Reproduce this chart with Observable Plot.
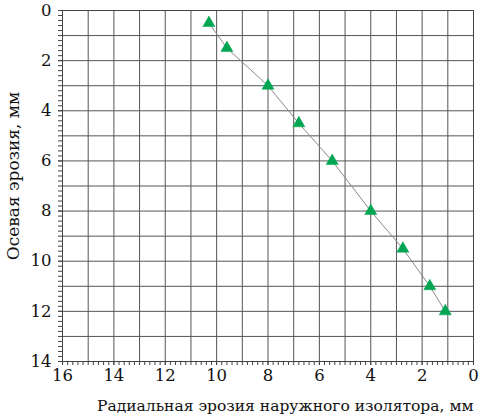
<!DOCTYPE html>
<html><head><meta charset="utf-8">
<script src="https://cdn.jsdelivr.net/npm/d3@7"></script>
<script src="https://cdn.jsdelivr.net/npm/@observablehq/plot@0.6"></script>
<style>body{margin:0;background:#fff;} svg{display:block;}</style>
</head><body><div id="chart"></div>
<script>
const radial = [10.3, 9.6, 8.0, 6.8, 5.5, 4.0, 2.75, 1.7, 1.1];
const axial = [0.5, 1.5, 3.0, 4.5, 6.0, 8.0, 9.5, 11.0, 12.0];
const xTicks = [16, 14, 12, 10, 8, 6, 4, 2, 0];
const yTicks = [0, 2, 4, 6, 8, 10, 12, 14];
const xLabel = "Радиальная эрозия наружного изолятора, мм";
const yLabel = "Осевая эрозия, мм";

const data = radial.map((r, i) => ({r, a: axial[i]}));
const minorX = d3.range(0, 16.001, 0.2).map(v => +v.toFixed(1));
const minorY = d3.range(0, 14.001, 0.2).map(v => +v.toFixed(1));

const chart = Plot.plot({
  width: 490, height: 420,
  marginLeft: 62, marginRight: 17, marginTop: 10, marginBottom: 59,
  style: {fontFamily: "DejaVu Serif", fontSize: "16.5px", color: "#000", background: "#fff"},
  x: {domain: [16, 0]},
  y: {domain: [0, 14], reverse: true},
  marks: [
    Plot.gridX(d3.range(0, 17, 1), {stroke: "#555", strokeOpacity: 1}),
    Plot.gridY(d3.range(0, 15, 1), {stroke: "#555", strokeOpacity: 1}),
    Plot.frame({stroke: "#444"}),
    Plot.axisX(minorX, {tickSize: 4, text: null, label: null, stroke: "#444"}),
    Plot.axisY(minorY, {tickSize: 4, text: null, label: null, stroke: "#444"}),
    Plot.axisX(xTicks, {tickSize: 4, tickPadding: 4, stroke: "#444", label: null, fill: "#111"}),
    Plot.axisY(yTicks, {tickSize: 4, tickPadding: 7, stroke: "#444", label: null, fill: "#111"}),
    Plot.text([xLabel], {frameAnchor: "bottom-right", dy: 49, dx: 0, textAnchor: "end", fontSize: 15.5, fill: "#111"}),
    Plot.text([yLabel], {frameAnchor: "left", textAnchor: "middle", rotate: -90, dx: -49, dy: -10, fontSize: 17, fill: "#111"}),
    Plot.line(data, {x: "r", y: "a", stroke: "#8a8a8a", strokeWidth: 1}),
    Plot.dot(data, {x: "r", y: "a", symbol: "triangle", r: 4.5, fill: "#00a651", stroke: "#00a651", strokeWidth: 0.5})
  ]
});
document.getElementById("chart").append(chart);
</script></body></html>
